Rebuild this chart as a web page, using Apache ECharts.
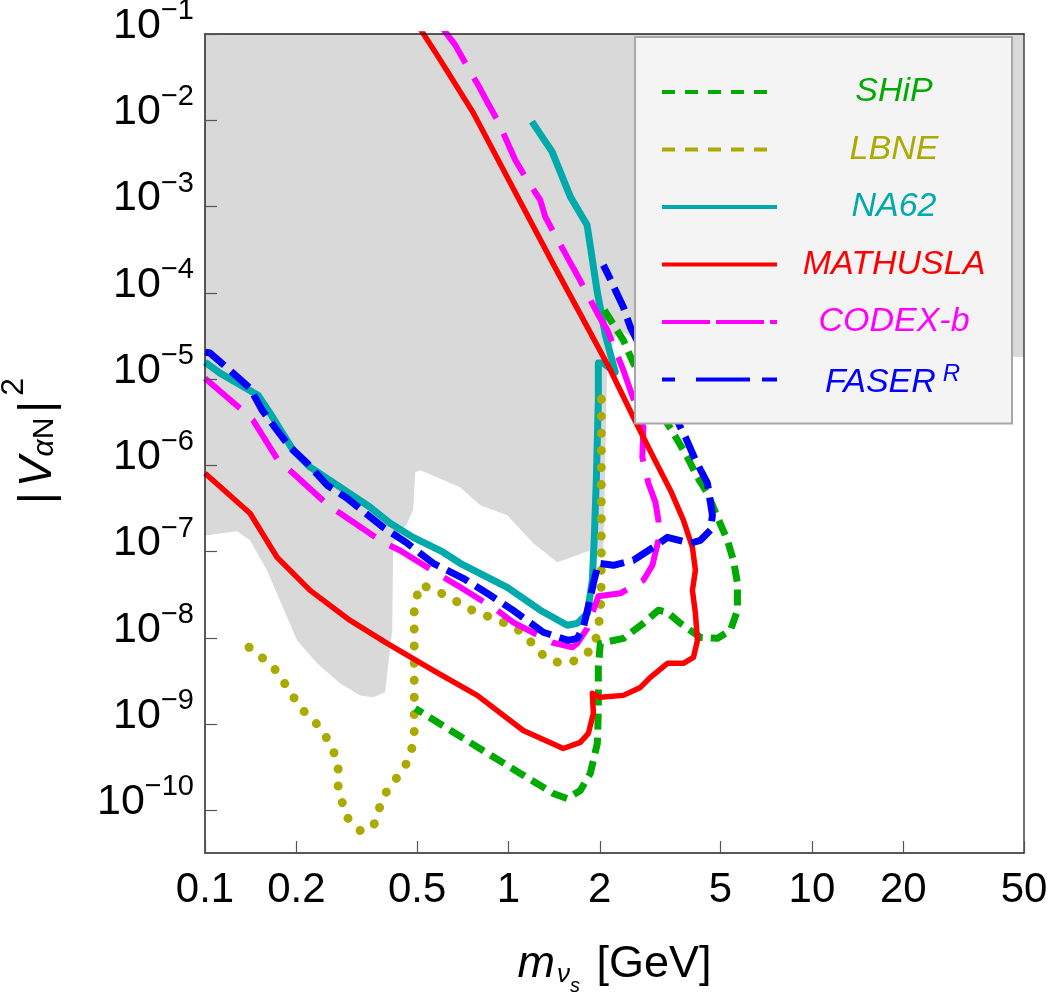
<!DOCTYPE html>
<html>
<head>
<meta charset="utf-8">
<title>|V_aN|^2 sensitivity</title>
<script src="https://cdn.jsdelivr.net/npm/echarts@6/dist/echarts.min.js"></script>
<style>
	html, body { margin: 0; padding: 0; background: #fff; }
	#chart { width: 1051px; height: 994px; }
</style>
</head>
<body>
<div id="chart"></div>
<script>
// tick values
var xTicks = [0.1, 0.2, 0.5, 1, 2, 5, 10, 20, 50];
var yTicks = [1e-1, 1e-2, 1e-3, 1e-4, 1e-5, 1e-6, 1e-7, 1e-8, 1e-9, 1e-10];

// excluded region (gray), outline [m, |V|^2]
var grayRegion = [[0.1,0.1],[50,0.1],[50,1.79e-5],[2.58,3.06e-5],[2.285,3.69e-5],[2.118,1.53e-5],[2.055,1.03e-7],
	[1.861,1.03e-7],[1.449,7.51e-8],[1.207,1.25e-7],[0.991,2.64e-7],[0.807,3.44e-7],[0.693,5.57e-7],[0.512,8.77e-7],
	[0.493,8.31e-7],[0.485,3.01e-7],[0.464,2.13e-7],[0.417,1.25e-7],[0.414,1.22e-8],[0.392,2.33e-9],[0.358,2.04e-9],
	[0.3245,2.15e-9],[0.279,2.96e-9],[0.234,5.06e-9],[0.201,9.35e-9],[0.160,6.07e-8],[0.1407,1.35e-7],[0.1274,1.72e-7],
	[0.1015,1.54e-7],[0.1,1.54e-7]];

var ship = [[2.070,6.30e-5],[2.391,2.82e-5],[2.580,1.53e-5],[3.241,3.61e-6],[3.496,2.36e-6],[3.888,1.24e-6],[4.196,7.28e-7],
	[4.526,4.75e-7],[4.884,2.50e-7],[5.268,1.35e-7],[5.514,7.93e-8],[5.684,4.29e-8],[5.684,2.09e-8],[5.390,1.22e-8],
	[4.884,9.86e-9],[4.292,1.01e-8],[3.687,1.47e-8],[3.341,1.98e-8],[3.120,2.09e-8],[2.784,1.47e-8],[2.391,9.86e-9],
	[2.008,8.62e-9],[1.978,8.62e-9],[1.978,4.55e-9],[1.978,1.44e-9],[1.963,5.97e-10],[1.861,2.68e-10],[1.725,1.70e-10],
	[1.562,1.37e-10],[1.405,1.57e-10],[1.094,2.68e-10],[0.7094,6.83e-10],[0.4928,1.52e-9]];

var lbne = [[0.1397,7.76e-9],[0.1553,5.78e-9],[0.1740,3.98e-9],[0.1907,2.33e-9],[0.2104,1.44e-9],[0.2340,9.92e-10],
	[0.2564,6.29e-10],[0.2747,3.59e-10],[0.2747,1.84e-10],[0.2917,8.49e-11],[0.3245,5.84e-11],[0.3581,6.32e-11],
	[0.3865,1.45e-10],[0.4297,2.41e-10],[0.4708,3.89e-10],[0.4891,6.83e-10],[0.4891,2.15e-9],[0.4891,6.59e-9],
	[0.4891,2.08e-8],[0.5079,4.06e-8],[0.5649,3.74e-8],[0.6331,2.94e-8],[0.6934,2.51e-8],[0.7713,2.02e-8],[0.8578,1.77e-8],
	[0.9612,1.51e-8],[1.053,1.32e-8],[1.153,1.01e-8],[1.264,6.76e-9],[1.405,5.31e-9],[1.562,5.03e-9],[1.725,5.78e-9],
	[1.919,7.76e-9],[2.008,1.87e-8],[2.023,4.65e-8],[2.023,1.46e-7],[2.023,4.75e-7],[2.023,1.53e-6],[2.023,7.43e-6]];

var na62 = [[0.1,1.57e-5],[0.1121,1.17e-5],[0.1496,6.50e-6],[0.1638,4.02e-6],[0.1951,1.50e-6],[0.2220,9.51e-7],
	[0.2788,5.57e-7],[0.3501,3.26e-7],[0.4075,2.13e-7],[0.4853,1.46e-7],[0.6095,9.82e-8],[0.6934,7.31e-8],[0.9909,3.85e-8],
	[1.273,2.09e-8],[1.562,1.40e-8],[1.686,1.47e-8],[1.820,1.92e-8],[1.890,4.65e-8],[1.919,1.5e-7],[1.948,6.71e-7],
	[1.978,5.69e-6],[1.978,1.53e-5],[2.055,1.53e-5],[2.250,1.20e-5],[2.086,3.23e-5],[1.958,1.07e-4],[1.816,6.10e-4],
	[1.599,1.30e-3],[1.392,4.33e-3],[1.195,9.64e-3]];

var mathusla = [[0.1,8.09e-7],[0.1407,2.78e-7],[0.1727,8.58e-8],[0.2220,3.55e-8],[0.3007,1.59e-8],[0.3983,8.61e-9],
	[0.5649,4.19e-9],[0.7892,2.15e-9],[1.119,8.43e-10],[1.516,5.21e-10],[1.725,6.12e-10],[1.834,7.79e-10],[1.905,1.33e-9],
	[1.890,2.27e-9],[2.008,2.04e-9],[2.391,2.15e-9],[2.721,2.66e-9],[2.936,3.48e-9],[3.341,5.06e-9],[3.772,5.06e-9],
	[4.071,5.93e-9],[4.196,9.35e-9],[4.132,1.92e-8],[4.039,3.55e-8],[4.132,6.07e-8],[4.039,1.12e-7],[3.772,2.31e-7],
	[3.417,5.14e-7],[3.004,1.24e-6],[2.580,3.61e-6],[2.167,1.27e-5],[1.820,4.00e-5],[1.405,2.15e-4],[1.037,1.62e-3],
	[0.7655,1.22e-2],[0.5957,5.01e-2],[0.5195,0.106],[0.4671,0.19]];

var codexb = [[0.1,1.02e-5],[0.1304,4.59e-6],[0.1440,3.33e-6],[0.1740,1.15e-6],[0.1951,8.09e-7],[0.2545,3.44e-7],
	[0.2851,2.64e-7],[0.3865,1.28e-7],[0.4396,1.03e-7],[0.5957,5.31e-8],[0.6777,4.06e-8],[0.9185,2.08e-8],[1.037,1.51e-8],
	[1.394,8.83e-9],[1.623,7.76e-9],[1.686,8.62e-9],[1.820,1.29e-8],[1.905,2.08e-8],[1.978,3.03e-8],[2.338,3.28e-8],
	[2.784,4.65e-8],[2.981,6.93e-8],[3.120,1.35e-7],[3.120,2.31e-7],[3.050,3.73e-7],[2.892,6.20e-7],[2.762,1.24e-6],
	[2.784,2.77e-6],[2.522,7.43e-6],[2.391,1.27e-5],[2.118,3.69e-5],[1.978,5.51e-5],[1.686,1.60e-4],[1.562,2.59e-4],
	[1.323,7.55e-4],[1.273,1.19e-3],[1.153,2.03e-3],[1.053,3.46e-3],[0.9909,5.60e-3],[0.9185,1.01e-2],[0.8514,1.63e-2],
	[0.7952,2.56e-2],[0.7482,3.63e-2],[0.6676,7.48e-2],[0.6190,0.106],[0.5867,0.146]];

var faser = [[0.1,2.05e-5],[0.1039,2.00e-5],[0.1237,1.17e-5],[0.1407,7.84e-6],[0.1542,4.36e-6],[0.1727,2.55e-6],
	[0.1907,1.62e-6],[0.2170,1.06e-6],[0.2526,5.87e-7],[0.2939,4.15e-7],[0.3865,1.91e-7],[0.4637,1.25e-7],[0.5649,7.31e-8],
	[0.7094,4.90e-8],[0.8710,3.11e-8],[1.037,2.08e-8],[1.302,1.16e-8],[1.575,9.35e-9],[1.686,9.86e-9],[1.765,1.32e-8],
	[1.861,2.88e-8],[1.905,4.29e-8],[1.978,7.31e-8],[2.217,6.93e-8],[2.580,7.93e-8],[3.004,1.12e-7],[3.341,1.46e-7],
	[3.979,1.25e-7],[4.292,1.35e-7],[4.630,1.77e-7],[4.701,2.64e-7],[4.526,6.20e-7],[4.132,1.15e-6],[3.830,2.12e-6],
	[3.687,2.77e-6],[2.522,4.00e-5],[2.391,6.83e-5],[2.118,1.69e-4],[2.055,2.09e-4]];

var FONT = 'Liberation Sans, Arial, Helvetica, sans-serif';

var chart = echarts.init(document.getElementById('chart'));

function curve(name, data, color, width, dash, cap) {
	return {
		name: name,
		type: 'line',
		data: data,
		symbol: 'none',
		smooth: false,
		silent: true,
		lineStyle: { color: color, width: width, type: dash || 'solid', cap: cap || 'butt', join: 'round' },
		itemStyle: { color: color }
	};
}

function legendItem(name, color, dash) {
	return {
		name: name,
		textStyle: { color: color },
		itemStyle: { opacity: 0, borderWidth: 0 },
		lineStyle: { width: 4, type: dash, cap: 'butt', color: color, opacity: 1 }
	};
}

chart.setOption({
	animation: false,
	grid: { left: 205, top: 34, right: 27, bottom: 141, containLabel: false, outerBoundsMode: 'none' },
	legend: {
		orient: 'vertical',
		left: 635,
		top: 37,
		selectedMode: false,
		itemWidth: 115,
		itemHeight: 20,
		itemGap: 23.5,
		padding: [38, 6, 24, 25],
		backgroundColor: '#f4f4f4',
		borderColor: '#a8a8a8',
		borderWidth: 2,
		textStyle: {
			fontFamily: FONT, fontSize: 34, fontStyle: 'italic',
			rich: {
				n: { fontFamily: FONT, fontSize: 34, fontStyle: 'italic', lineHeight: 40, width: 224, align: 'center' },
				fa: { fontFamily: FONT, fontSize: 34, fontStyle: 'italic', lineHeight: 40, verticalAlign: 'bottom', padding: [0, 0, 0, 43] },
				r: { fontFamily: FONT, fontSize: 24, fontStyle: 'italic', lineHeight: 24, padding: [0, 0, 13, 7], verticalAlign: 'bottom' }
			}
		},
		formatter: function (name) {
			if (name === 'FASER') return '{fa|FASER}{r|R}';
			return '{n|' + name + '}';
		},
		data: [
			legendItem('SHiP', '#00aa00', [13, 10]),
			legendItem('LBNE', '#aaaa00', [13, 10]),
			legendItem('NA62', '#00aaaa', 'solid'),
			legendItem('MATHUSLA', '#ff0000', 'solid'),
			legendItem('CODEX-b', '#ff00ff', [48, 6]),
			legendItem('FASER', '#0000ff', [13, 21, 54, 12, 15, 100])
		]
	},
	xAxis: [{
		type: 'log',
		logBase: 10,
		min: 0.1,
		max: 50,
		position: 'bottom',
		z: 10,
		axisLine: { show: true, onZero: false, lineStyle: { color: '#222', width: 1.5 } },
		axisTick: { show: true, inside: true, length: 12, customValues: xTicks, lineStyle: { color: '#555', width: 1.2 } },
		minorTick: { show: false },
		splitLine: { show: false },
		axisLabel: {
			customValues: xTicks,
			fontFamily: FONT, fontSize: 42, color: '#000', margin: 16,
			formatter: function (v) { return String(parseFloat(Number(v).toPrecision(3))); }
		},
		name: '{m|m}{v|ν}{s|s}{t| [GeV]}',
		nameLocation: 'middle',
		nameGap: 98,
		nameTextStyle: {
			rich: {
				m: { fontFamily: FONT, fontSize: 45, fontStyle: 'italic', lineHeight: 45, color: '#000', verticalAlign: 'bottom', padding: [0, 0, 9, 0] },
				v: { fontFamily: FONT, fontSize: 26, fontStyle: 'italic', lineHeight: 26, color: '#000', verticalAlign: 'bottom', padding: [0, 0, 8, 2] },
				s: { fontFamily: FONT, fontSize: 20, fontStyle: 'italic', lineHeight: 20, color: '#000', verticalAlign: 'bottom', padding: [0, 4, 0, 0] },
				t: { fontFamily: FONT, fontSize: 45, lineHeight: 45, color: '#000', verticalAlign: 'bottom', padding: [0, 0, 9, 0] }
			}
		}
	}, {
		type: 'log',
		min: 0.1,
		max: 50,
		position: 'top',
		z: 10,
		axisLine: { show: true, onZero: false, lineStyle: { color: '#222', width: 1.5 } },
		axisTick: { show: false },
		axisLabel: { show: false },
		splitLine: { show: false }
	}],
	yAxis: [{
		type: 'log',
		logBase: 10,
		min: 3.2e-11,
		max: 0.1,
		position: 'left',
		z: 10,
		axisLine: { show: true, onZero: false, lineStyle: { color: '#222', width: 1.5 } },
		axisTick: { show: true, inside: true, length: 12, customValues: yTicks, lineStyle: { color: '#555', width: 1.2 } },
		minorTick: { show: false },
		splitLine: { show: false },
		axisLabel: {
			customValues: yTicks,
			margin: 11,
			formatter: function (v) {
				var e = Math.round(Math.log(v) / Math.LN10);
				return '{b|10}{s|\u2212' + (-e) + '}';
			},
			rich: {
				b: { fontFamily: FONT, fontSize: 43, lineHeight: 43, color: '#000', verticalAlign: 'bottom', padding: [0, 0, 8, 0] },
				s: { fontFamily: FONT, fontSize: 29, lineHeight: 29, color: '#000', verticalAlign: 'bottom', padding: [0, 0, 30, 0] }
			}
		},
		name: '{b||}{v|V}{a|α}{n|N}{b||}{p|2}',
		nameLocation: 'middle',
		nameRotate: 90,
		nameGap: 144,
		nameTextStyle: {
			rich: {
				b: { fontFamily: FONT, fontSize: 46, lineHeight: 46, color: '#000', verticalAlign: 'bottom', padding: [0, 5, 0, 5] },
				v: { fontFamily: FONT, fontSize: 46, fontStyle: 'italic', lineHeight: 46, color: '#000', verticalAlign: 'bottom' },
				a: { fontFamily: FONT, fontSize: 30, fontStyle: 'italic', lineHeight: 30, color: '#000', verticalAlign: 'bottom', padding: [0, 0, 1, 0] },
				n: { fontFamily: FONT, fontSize: 30, lineHeight: 30, color: '#000', verticalAlign: 'bottom', padding: [0, 0, 1, 0] },
				p: { fontFamily: FONT, fontSize: 32, lineHeight: 32, color: '#000', verticalAlign: 'bottom', padding: [0, 0, 31, 0] }
			}
		}
	}, {
		type: 'log',
		min: 3.2e-11,
		max: 0.1,
		position: 'right',
		z: 10,
		axisLine: { show: true, onZero: false, lineStyle: { color: '#444', width: 1.5 } },
		axisTick: { show: false },
		axisLabel: { show: false },
		splitLine: { show: false }
	}],
	series: [
		{
			name: 'excluded',
			type: 'custom',
			silent: true,
			z: 1,
			data: [[1, 1e-5]],
			renderItem: function (params, api) {
				var pts = grayRegion.map(function (p) { return api.coord(p); });
				return { type: 'polygon', shape: { points: pts }, style: { fill: '#d9d9d9' } };
			}
		},
		curve('NA62', na62, '#00aaaa', 7),
		curve('LBNE', lbne, '#aaaa00', 9, [0.1, 17], 'round'),
		curve('SHiP', ship, '#00aa00', 7, [16, 8]),
		curve('CODEX-b', codexb, '#ff00ff', 6, [46, 17]),
		curve('MATHUSLA', mathusla, '#ff0000', 5.5),
		curve('FASER', faser, '#0000ff', 7, [24, 9])
	]
});
</script>
</body>
</html>
